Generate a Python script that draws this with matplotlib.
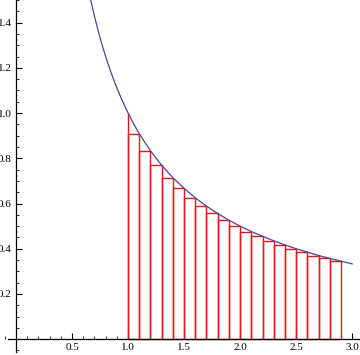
#Plot 1/x with right-endpoint rectangles

import matplotlib
matplotlib.use("Agg")
import matplotlib.pyplot as plt
from matplotlib.ticker import MultipleLocator, FixedLocator

# rectangle left edges and heights (value at right edge)
rect_left = [1.0, 1.1, 1.2, 1.3, 1.4, 1.5, 1.6, 1.7, 1.8, 1.9,
             2.0, 2.1, 2.2, 2.3, 2.4, 2.5, 2.6, 2.7, 2.8]
rect_height = [0.909, 0.833, 0.769, 0.714, 0.667, 0.625, 0.588, 0.556, 0.526, 0.5,
               0.476, 0.455, 0.435, 0.417, 0.4, 0.385, 0.370, 0.357, 0.345]
rect_width = 0.1
start_x = 1.0
start_height = 1.0

# curve points
curve_x = [0.66, 0.68, 0.70, 0.72, 0.75, 0.78, 0.80, 0.83, 0.86, 0.90, 0.95, 1.0,
           1.05, 1.1, 1.15, 1.2, 1.3, 1.4, 1.5, 1.6, 1.7, 1.8, 1.9, 2.0,
           2.1, 2.2, 2.3, 2.4, 2.5, 2.6, 2.7, 2.8, 2.9, 3.0]
curve_y = [1.515, 1.471, 1.429, 1.389, 1.333, 1.282, 1.25, 1.205, 1.163, 1.111, 1.053, 1.0,
           0.952, 0.909, 0.870, 0.833, 0.769, 0.714, 0.667, 0.625, 0.588, 0.556, 0.526, 0.5,
           0.476, 0.455, 0.435, 0.417, 0.4, 0.385, 0.370, 0.357, 0.345, 0.333]

xticks = [0.5, 1.0, 1.5, 2.0, 2.5, 3.0]
yticks = [0.2, 0.4, 0.6, 0.8, 1.0, 1.2, 1.4]

plt.rcParams['font.family'] = ['Liberation Serif', 'DejaVu Serif']

fig = plt.figure(figsize=(3.6, 3.55), dpi=100)
ax = fig.add_axes([0, 0, 1, 1])

curve_color = (0.27, 0.27, 0.6)
ax.plot(curve_x, curve_y, color=curve_color, lw=0.9, zorder=3)

ax.bar(rect_left, rect_height, width=rect_width, align='edge',
       fill=False, edgecolor='#e8141c', lw=1.0, zorder=2)
ax.vlines(start_x, 0, start_height, color='#e8141c', lw=1.0, zorder=2)

ax.set_xlim(-0.143, 3.07)
ax.set_ylim(-0.07, 1.5)

# mathematica style axes through the origin
for s in ['top', 'right']:
    ax.spines[s].set_visible(False)
ax.spines['left'].set_position(('data', 0))
ax.spines['bottom'].set_position(('data', 0))
ax.spines['left'].set_bounds(-0.055, 1.5)
ax.spines['bottom'].set_bounds(-0.07, 3.07)
ax.spines['left'].set_linewidth(0.9)
ax.spines['bottom'].set_linewidth(0.9)

ax.xaxis.set_major_locator(FixedLocator(xticks))
ax.yaxis.set_major_locator(FixedLocator(yticks))
ax.xaxis.set_minor_locator(MultipleLocator(0.1))
ax.yaxis.set_minor_locator(MultipleLocator(0.05))
ax.set_xticklabels([f"{v:.1f}" for v in xticks])
ax.set_yticklabels([f"{v:.1f}" for v in yticks])

ax.tick_params(which='major', direction='in', length=4, width=0.8, labelsize=8, pad=3)
ax.tick_params(which='minor', direction='in', length=2.2, width=0.6)

fig.savefig("out.png", dpi=100)
